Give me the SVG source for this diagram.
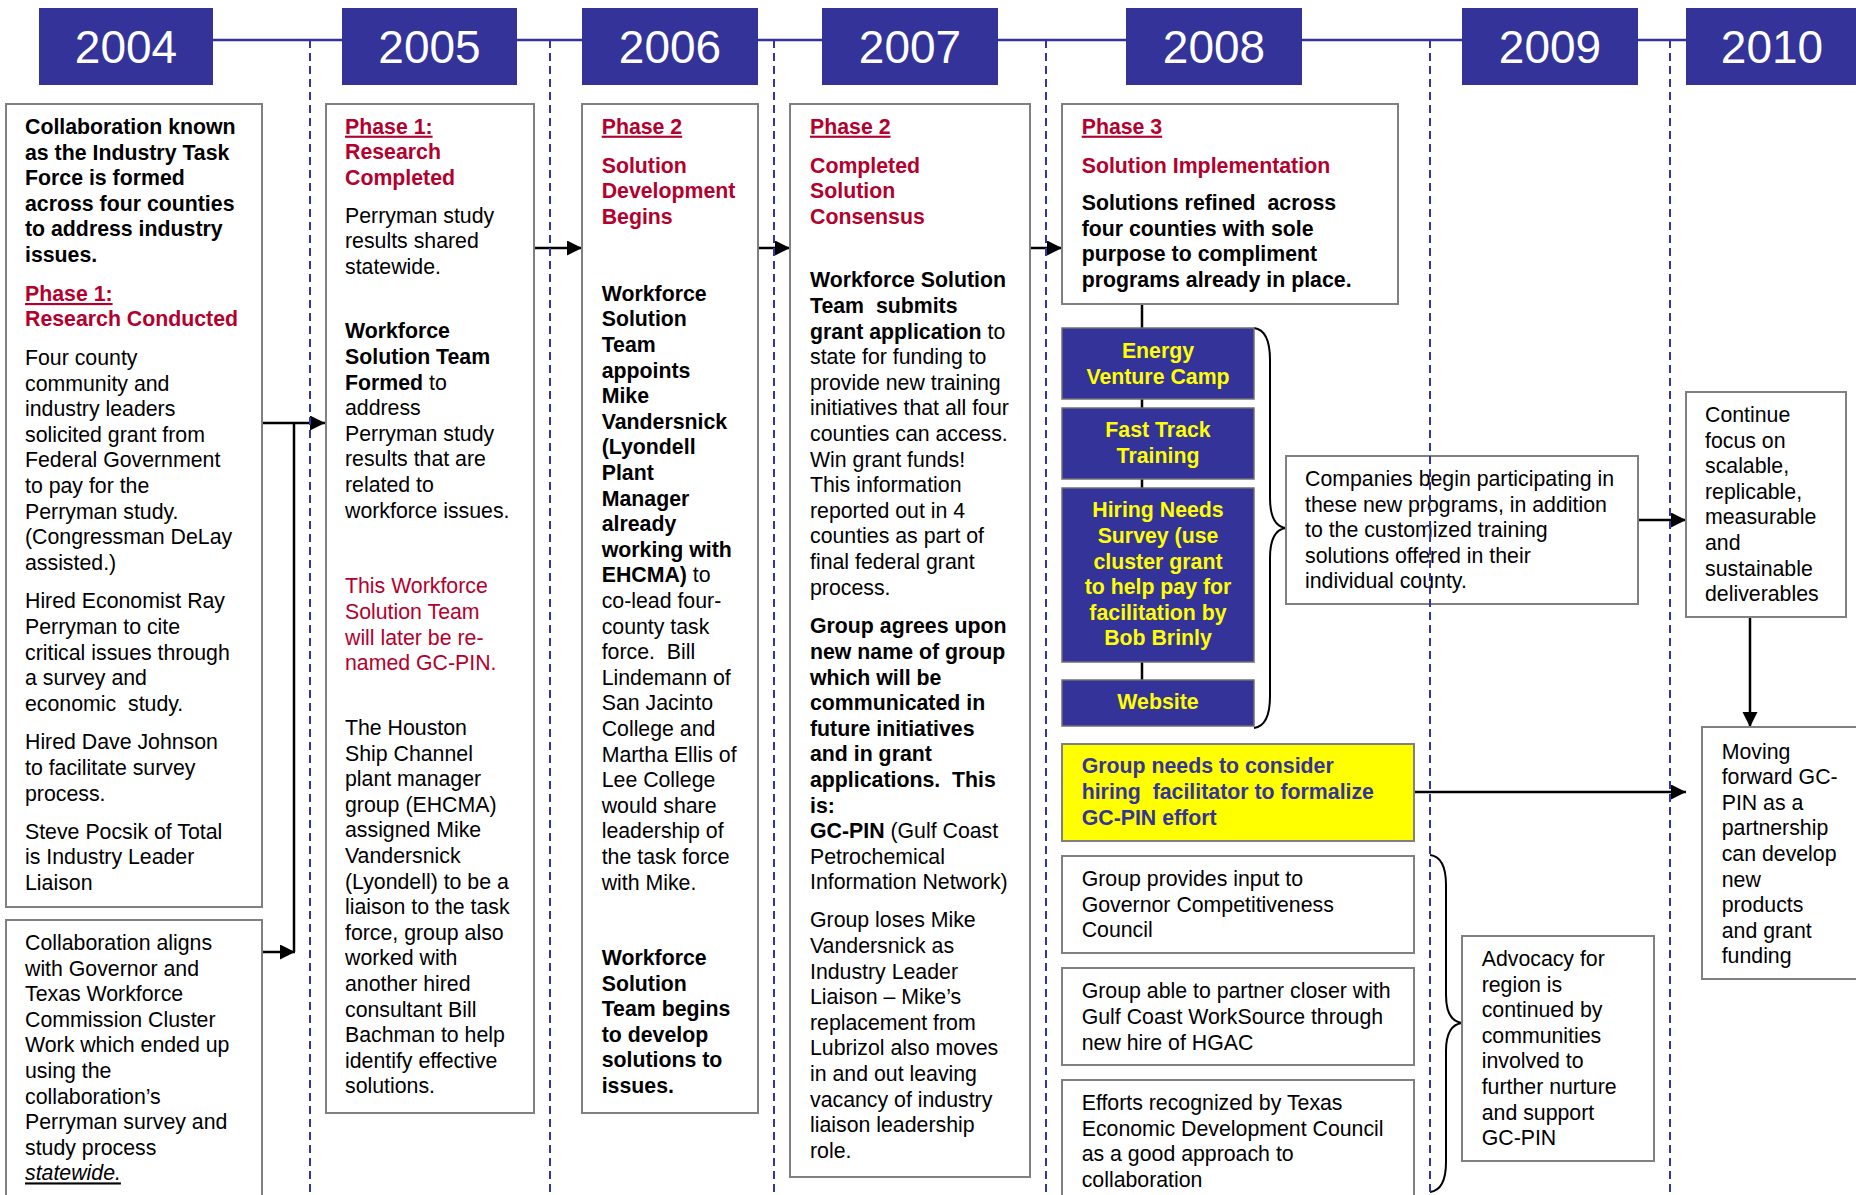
<svg xmlns="http://www.w3.org/2000/svg" width="1856" height="1195" viewBox="0 0 1856 1195">
<style>
text{font-family:"Liberation Sans",Arial,sans-serif;font-size:21.3px;fill:#000}
.yr{fill:#333399}
.yt{font-size:46px;fill:#fff;text-anchor:middle}
.box{fill:#fff;stroke:#808080;stroke-width:2}
.bb{fill:#333399;stroke:#707070;stroke-width:1.5}
.yb{fill:#ffff00;stroke:#808080;stroke-width:2}
.b{font-weight:bold}
.r{fill:#b3002d}
.u{text-decoration:underline}
.y{fill:#ffff00;font-weight:bold;text-anchor:middle}
.n{fill:#333399;font-weight:bold}
.c{fill:none;stroke:#000;stroke-width:2.5}
.br{fill:none;stroke:#000;stroke-width:2}
.d{stroke:#3333aa;stroke-width:2;stroke-dasharray:8 5}
</style>
<defs>
<marker id="ah" markerUnits="userSpaceOnUse" markerWidth="16" markerHeight="16" refX="15" refY="7.5" orient="auto">
<path d="M0,0 L15,7.5 L0,15 z" fill="#000"/>
</marker>
</defs>
<rect width="1856" height="1195" fill="#fff"/>
<line x1="39" y1="40" x2="1856" y2="40" stroke="#333399" stroke-width="2.5"/>
<g id="years">
<g id="y2004"><rect class="yr" x="39" y="8" width="174" height="77"/><text class="yt" x="126" y="63">2004</text></g>
<g id="y2005"><rect class="yr" x="342" y="8" width="175" height="77"/><text class="yt" x="429.5" y="63">2005</text></g>
<g id="y2006"><rect class="yr" x="582" y="8" width="176" height="77"/><text class="yt" x="670" y="63">2006</text></g>
<g id="y2007"><rect class="yr" x="822" y="8" width="176" height="77"/><text class="yt" x="910" y="63">2007</text></g>
<g id="y2008"><rect class="yr" x="1126" y="8" width="176" height="77"/><text class="yt" x="1214" y="63">2008</text></g>
<g id="y2009"><rect class="yr" x="1462" y="8" width="176" height="77"/><text class="yt" x="1550" y="63">2009</text></g>
<g id="y2010"><rect class="yr" x="1686" y="8" width="172" height="77"/><text class="yt" x="1772" y="63">2010</text></g>
</g>
<g id="connectors">
<path class="c" d="M262,423 H325" marker-end="url(#ah)"/>
<path class="c" d="M294,423 V952"/>
<path class="c" d="M262,952 H295" marker-end="url(#ah)"/>
<path class="c" d="M534,248 H582" marker-end="url(#ah)"/>
<path class="c" d="M758,248 H790" marker-end="url(#ah)"/>
<path class="c" d="M1030,248 H1062" marker-end="url(#ah)"/>
<path class="c" d="M1638,520 H1686" marker-end="url(#ah)"/>
<path class="c" d="M1750,617 V727" marker-end="url(#ah)"/>
<path class="c" d="M1414,792 H1686" marker-end="url(#ah)"/>
<path class="c" d="M1142,304 V680"/>
<path class="br" d="M1254,328 Q1270,330 1270,360 L1270,498 Q1270,526 1286,528 Q1270,530 1270,558 L1270,696 Q1270,726 1254,728"/>
<path class="br" d="M1430,855 Q1446,857 1446,885 L1446,995 Q1446,1021 1462,1023 Q1446,1025 1446,1051 L1446,1162 Q1446,1190 1430,1192"/>
</g>
<g id="boxA">
<rect class="box" x="6" y="104" width="256" height="803"/>
<text class="b" x="25" y="134">Collaboration known</text>
<text class="b" x="25" y="159.6">as the Industry Task</text>
<text class="b" x="25" y="185.2">Force is formed</text>
<text class="b" x="25" y="210.8">across four counties</text>
<text class="b" x="25" y="236.4">to address industry</text>
<text class="b" x="25" y="262">issues.</text>
<text class="b r u" x="25" y="301">Phase 1:</text>
<text class="b r" x="25" y="326">Research Conducted</text>
<text x="25" y="365">Four county</text>
<text x="25" y="390.6">community and</text>
<text x="25" y="416.2">industry leaders</text>
<text x="25" y="441.8">solicited grant from</text>
<text x="25" y="467.4">Federal Government</text>
<text x="25" y="493">to pay for the</text>
<text x="25" y="518.6">Perryman study.</text>
<text x="25" y="544.2">(Congressman DeLay</text>
<text x="25" y="569.8">assisted.)</text>
<text x="25" y="608.3">Hired Economist Ray</text>
<text x="25" y="633.9">Perryman to cite</text>
<text x="25" y="659.5">critical issues through</text>
<text x="25" y="685.1">a survey and</text>
<text x="25" y="710.7">economic&#160; study.</text>
<text x="25" y="749.3">Hired Dave Johnson</text>
<text x="25" y="774.9">to facilitate survey</text>
<text x="25" y="800.5">process.</text>
<text x="25" y="838.5">Steve Pocsik of Total</text>
<text x="25" y="864.1">is Industry Leader</text>
<text x="25" y="889.7">Liaison</text>
</g>
<g id="boxB">
<rect class="box" x="6" y="920" width="256" height="290"/>
<text x="25" y="950">Collaboration aligns</text>
<text x="25" y="975.6">with Governor and</text>
<text x="25" y="1001.2">Texas Workforce</text>
<text x="25" y="1026.8">Commission Cluster</text>
<text x="25" y="1052.4">Work which ended up</text>
<text x="25" y="1078">using the</text>
<text x="25" y="1103.6">collaboration’s</text>
<text x="25" y="1129.2">Perryman survey and</text>
<text x="25" y="1154.8">study process</text>
<text class="u" x="25" y="1180.4" font-style="italic">statewide.</text>
</g>
<g id="boxC">
<rect class="box" x="326" y="104" width="208" height="1009"/>
<text class="b r u" x="345" y="133.7">Phase 1:</text>
<text class="b r" x="345" y="159.3">Research</text>
<text class="b r" x="345" y="184.9">Completed</text>
<text x="345" y="222.7">Perryman study</text>
<text x="345" y="248.3">results shared</text>
<text x="345" y="273.9">statewide.</text>
<text class="b" x="345" y="338.3">Workforce</text>
<text class="b" x="345" y="363.9">Solution Team</text>
<text x="345" y="389.5"><tspan class="b">Formed</tspan> to</text>
<text x="345" y="415.1">address</text>
<text x="345" y="440.7">Perryman study</text>
<text x="345" y="466.3">results that are</text>
<text x="345" y="491.9">related to</text>
<text x="345" y="517.5">workforce issues.</text>
<text class="r" x="345" y="593.3">This Workforce</text>
<text class="r" x="345" y="618.9">Solution Team</text>
<text class="r" x="345" y="644.5">will later be re-</text>
<text class="r" x="345" y="670.1">named GC-PIN.</text>
<text x="345" y="735">The Houston</text>
<text x="345" y="760.6">Ship Channel</text>
<text x="345" y="786.2">plant manager</text>
<text x="345" y="811.8">group (EHCMA)</text>
<text x="345" y="837.4">assigned Mike</text>
<text x="345" y="863">Vandersnick</text>
<text x="345" y="888.6">(Lyondell) to be a</text>
<text x="345" y="914.2">liaison to the task</text>
<text x="345" y="939.8">force, group also</text>
<text x="345" y="965.4">worked with</text>
<text x="345" y="991">another hired</text>
<text x="345" y="1016.6">consultant Bill</text>
<text x="345" y="1042.2">Bachman to help</text>
<text x="345" y="1067.8">identify effective</text>
<text x="345" y="1093.4">solutions.</text>
</g>
<g id="boxD">
<rect class="box" x="582" y="104" width="176" height="1009"/>
<text class="b r u" x="601.7" y="133.7">Phase 2</text>
<text class="b r" x="601.7" y="172.7">Solution</text>
<text class="b r" x="601.7" y="198.3">Development</text>
<text class="b r" x="601.7" y="223.9">Begins</text>
<text class="b" x="601.7" y="300.7">Workforce</text>
<text class="b" x="601.7" y="326.3">Solution</text>
<text class="b" x="601.7" y="351.9">Team</text>
<text class="b" x="601.7" y="377.5">appoints</text>
<text class="b" x="601.7" y="403.1">Mike</text>
<text class="b" x="601.7" y="428.7">Vandersnick</text>
<text class="b" x="601.7" y="454.3">(Lyondell</text>
<text class="b" x="601.7" y="479.9">Plant</text>
<text class="b" x="601.7" y="505.5">Manager</text>
<text class="b" x="601.7" y="531.1">already</text>
<text class="b" x="601.7" y="556.7">working with</text>
<text x="601.7" y="582.3"><tspan class="b">EHCMA)</tspan> to</text>
<text x="601.7" y="607.9">co-lead four-</text>
<text x="601.7" y="633.5">county task</text>
<text x="601.7" y="659.1">force.&#160; Bill</text>
<text x="601.7" y="684.7">Lindemann of</text>
<text x="601.7" y="710.3">San Jacinto</text>
<text x="601.7" y="735.9">College and</text>
<text x="601.7" y="761.5">Martha Ellis of</text>
<text x="601.7" y="787.1">Lee College</text>
<text x="601.7" y="812.7">would share</text>
<text x="601.7" y="838.3">leadership of</text>
<text x="601.7" y="863.9">the task force</text>
<text x="601.7" y="889.5">with Mike.</text>
<text class="b" x="601.7" y="965">Workforce</text>
<text class="b" x="601.7" y="990.6">Solution</text>
<text class="b" x="601.7" y="1016.2">Team begins</text>
<text class="b" x="601.7" y="1041.8">to develop</text>
<text class="b" x="601.7" y="1067.4">solutions to</text>
<text class="b" x="601.7" y="1093">issues.</text>
</g>
<g id="boxE">
<rect class="box" x="790" y="104" width="240" height="1073"/>
<text class="b r u" x="810" y="133.7">Phase 2</text>
<text class="b r" x="810" y="172.7">Completed</text>
<text class="b r" x="810" y="198.3">Solution</text>
<text class="b r" x="810" y="223.9">Consensus</text>
<text class="b" x="810" y="287.3">Workforce Solution</text>
<text class="b" x="810" y="312.9">Team&#160; submits</text>
<text x="810" y="338.5"><tspan class="b">grant application</tspan> to</text>
<text x="810" y="364.1">state for funding to</text>
<text x="810" y="389.7">provide new training</text>
<text x="810" y="415.3">initiatives that all four</text>
<text x="810" y="440.9">counties can access.</text>
<text x="810" y="466.5">Win grant funds!</text>
<text x="810" y="492.1">This information</text>
<text x="810" y="517.7">reported out in 4</text>
<text x="810" y="543.3">counties as part of</text>
<text x="810" y="568.9">final federal grant</text>
<text x="810" y="594.5">process.</text>
<text class="b" x="810" y="633.3">Group agrees upon</text>
<text class="b" x="810" y="658.9">new name of group</text>
<text class="b" x="810" y="684.5">which will be</text>
<text class="b" x="810" y="710.1">communicated in</text>
<text class="b" x="810" y="735.7">future initiatives</text>
<text class="b" x="810" y="761.3">and in grant</text>
<text class="b" x="810" y="786.9">applications.&#160; This</text>
<text class="b" x="810" y="812.5">is:</text>
<text x="810" y="838.1"><tspan class="b">GC-PIN</tspan> (Gulf Coast</text>
<text x="810" y="863.7">Petrochemical</text>
<text x="810" y="889.3">Information Network)</text>
<text x="810" y="927.3">Group loses Mike</text>
<text x="810" y="952.9">Vandersnick as</text>
<text x="810" y="978.5">Industry Leader</text>
<text x="810" y="1004.1">Liaison – Mike’s</text>
<text x="810" y="1029.7">replacement from</text>
<text x="810" y="1055.3">Lubrizol also moves</text>
<text x="810" y="1080.9">in and out leaving</text>
<text x="810" y="1106.5">vacancy of industry</text>
<text x="810" y="1132.1">liaison leadership</text>
<text x="810" y="1157.7">role.</text>
</g>
<g id="boxF">
<rect class="box" x="1062" y="104" width="336" height="200"/>
<text class="b r u" x="1081.7" y="133.7">Phase 3</text>
<text class="b r" x="1081.7" y="172.7">Solution Implementation</text>
<text class="b" x="1081.7" y="210">Solutions refined&#160; across</text>
<text class="b" x="1081.7" y="235.6">four counties with sole</text>
<text class="b" x="1081.7" y="261.2">purpose to compliment</text>
<text class="b" x="1081.7" y="286.8">programs already in place.</text>
</g>
<g id="energy">
<rect class="bb" x="1062" y="328" width="192" height="71"/>
<text class="y" x="1158" y="358.3">Energy</text>
<text class="y" x="1158" y="383.5">Venture Camp</text>
</g>
<g id="fasttrack">
<rect class="bb" x="1062" y="408" width="192" height="71"/>
<text class="y" x="1158" y="437.3">Fast Track</text>
<text class="y" x="1158" y="463.3">Training</text>
</g>
<g id="hiring">
<rect class="bb" x="1062" y="488" width="192" height="174"/>
<text class="y" x="1158" y="517.3">Hiring Needs</text>
<text class="y" x="1158" y="542.9">Survey (use</text>
<text class="y" x="1158" y="568.5">cluster grant</text>
<text class="y" x="1158" y="594.1">to help pay for</text>
<text class="y" x="1158" y="619.7">facilitation by</text>
<text class="y" x="1158" y="645.3">Bob Brinly</text>
</g>
<g id="website">
<rect class="bb" x="1062" y="680" width="192" height="46"/>
<text class="y" x="1158" y="709">Website</text>
</g>
<g id="companies">
<rect class="box" x="1286" y="456" width="352" height="148"/>
<text x="1305" y="486">Companies begin participating in</text>
<text x="1305" y="511.6">these new programs, in addition</text>
<text x="1305" y="537.2">to the customized training</text>
<text x="1305" y="562.8">solutions offered in their</text>
<text x="1305" y="588.4">individual county.</text>
</g>
<g id="continue">
<rect class="box" x="1686" y="392" width="160" height="225"/>
<text x="1705" y="422">Continue</text>
<text x="1705" y="447.6">focus on</text>
<text x="1705" y="473.2">scalable,</text>
<text x="1705" y="498.8">replicable,</text>
<text x="1705" y="524.4">measurable</text>
<text x="1705" y="550">and</text>
<text x="1705" y="575.6">sustainable</text>
<text x="1705" y="601.2">deliverables</text>
</g>
<g id="moving">
<rect class="box" x="1702" y="727" width="160" height="252"/>
<text x="1721.7" y="758.6">Moving</text>
<text x="1721.7" y="784.2">forward GC-</text>
<text x="1721.7" y="809.8">PIN as a</text>
<text x="1721.7" y="835.4">partnership</text>
<text x="1721.7" y="861">can develop</text>
<text x="1721.7" y="886.6">new</text>
<text x="1721.7" y="912.2">products</text>
<text x="1721.7" y="937.8">and grant</text>
<text x="1721.7" y="963.4">funding</text>
</g>
<g id="facilitator">
<rect class="yb" x="1062" y="744" width="352" height="97"/>
<text class="n" x="1081.7" y="773.3">Group needs to consider</text>
<text class="n" x="1081.7" y="798.9">hiring&#160; facilitator to formalize</text>
<text class="n" x="1081.7" y="824.5">GC-PIN effort</text>
</g>
<g id="governor">
<rect class="box" x="1062" y="856" width="352" height="97"/>
<text x="1081.7" y="886">Group provides input to</text>
<text x="1081.7" y="911.6">Governor Competitiveness</text>
<text x="1081.7" y="937.2">Council</text>
</g>
<g id="worksource">
<rect class="box" x="1062" y="968" width="352" height="97"/>
<text x="1081.7" y="998.3">Group able to partner closer with</text>
<text x="1081.7" y="1023.9">Gulf Coast WorkSource through</text>
<text x="1081.7" y="1049.5">new hire of HGAC</text>
</g>
<g id="efforts">
<rect class="box" x="1062" y="1080" width="352" height="130"/>
<text x="1081.7" y="1110">Efforts recognized by Texas</text>
<text x="1081.7" y="1135.6">Economic Development Council</text>
<text x="1081.7" y="1161.2">as a good approach to</text>
<text x="1081.7" y="1186.8">collaboration</text>
</g>
<g id="advocacy">
<rect class="box" x="1462" y="936" width="192" height="225"/>
<text x="1481.7" y="966">Advocacy for</text>
<text x="1481.7" y="991.6">region is</text>
<text x="1481.7" y="1017.2">continued by</text>
<text x="1481.7" y="1042.8">communities</text>
<text x="1481.7" y="1068.4">involved to</text>
<text x="1481.7" y="1094">further nurture</text>
<text x="1481.7" y="1119.6">and support</text>
<text x="1481.7" y="1145.2">GC-PIN</text>
</g>
<g id="dividers">
<line class="d" x1="310" y1="40" x2="310" y2="1195"/>
<line class="d" x1="550" y1="40" x2="550" y2="1195"/>
<line class="d" x1="774" y1="40" x2="774" y2="1195"/>
<line class="d" x1="1046" y1="40" x2="1046" y2="1195"/>
<line class="d" x1="1430" y1="40" x2="1430" y2="1195"/>
<line class="d" x1="1670" y1="40" x2="1670" y2="1195"/>
</g>
</svg>
